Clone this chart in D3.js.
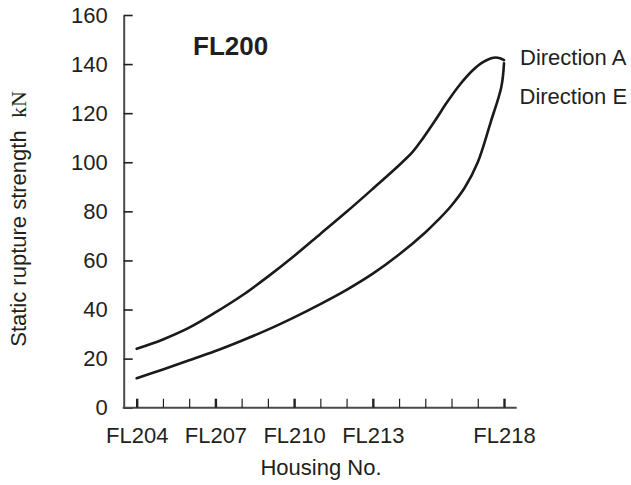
<!DOCTYPE html>
<html>
<head>
<meta charset="utf-8">
<script src="https://cdn.jsdelivr.net/npm/d3@7"></script>
<style>
  html, body { margin: 0; padding: 0; background: #fff; }
  svg { display: block; }
  text { font-family: "Liberation Sans", Arial, sans-serif; fill: #231f20; }
</style>
</head>
<body>
<svg id="chart" width="631" height="485"></svg>
<script>
// ---- data ----
const housingTicks = [204,205,206,207,208,209,210,211,212,213,214,215,216,217,218];
const housingLabels = [204,207,210,213,218];
const strengthTicks = [0,20,40,60,80,100,120,140,160];

// Direction A (upper curve): housing number (fractional positions along the curve) and strength kN
const housingA  = [204, 205, 206, 207, 208, 209, 210, 211, 212, 213, 214, 214.5, 214.9, 215.4, 215.8, 216.3, 216.8, 217.2, 217.6, 217.85, 218];
const strengthA = [24, 27.8, 32.6, 38.8, 45.6, 53.4, 61.8, 70.8, 79.8, 89.2, 98.8, 104, 109.6, 117.4, 124, 131.4, 137.4, 140.8, 142.6, 142.4, 141.6];

// Direction E (lower curve)
const housingE  = [204, 205, 206, 207, 208, 209, 210, 211, 212, 213, 214, 215, 215.5, 216, 216.5, 217, 217.5, 217.9, 218];
const strengthE = [12, 15.6, 19.3, 23.1, 27.3, 31.8, 36.8, 42.2, 48, 54.6, 62.4, 71.4, 76.6, 82.4, 89.6, 100, 116.6, 130.8, 140.3];

const seriesNames = ["Direction A", "Direction E"];
const chartTitle = "FL200";
const xTitle = "Housing No.";
const yTitleSans = "Static rupture strength\u00a0\u00a0";
const yTitleUnit = "kN";

// ---- layout ----
const svg = d3.select("#chart");
const FS = 22;
const x = d3.scaleLinear().domain([204, 218]).range([136.7, 504]);
const y = d3.scaleLinear().domain([0, 160]).range([407.7, 15]);
const axisColor = "#4a4a4a";

// y axis
const yAxis = svg.append("g").attr("transform", "translate(123.7,0)")
  .call(d3.axisLeft(y).tickValues(strengthTicks).tickSizeInner(-9).tickSizeOuter(0).tickPadding(16));
yAxis.select(".domain").attr("stroke", axisColor).attr("stroke-width", 2);
yAxis.selectAll(".tick line").attr("stroke", "#231f20").attr("stroke-width", 1.6);
yAxis.selectAll(".tick text").style("font-size", FS + "px").attr("fill", "#231f20");

// x axis line (extends beyond first/last ticks, from the y axis)
svg.append("line")
  .attr("x1", 122.7).attr("x2", x(218) + 12.7)
  .attr("y1", y(0)).attr("y2", y(0))
  .attr("stroke", axisColor).attr("stroke-width", 2);

const xAxis = svg.append("g").attr("transform", `translate(0,${y(0)})`)
  .call(d3.axisBottom(x).tickValues(housingTicks).tickSizeInner(-9).tickSizeOuter(0).tickPadding(20)
    .tickFormat(d => housingLabels.includes(d) ? "FL" + d : ""));
xAxis.select(".domain").remove();
xAxis.selectAll(".tick line")
  .attr("stroke", "#231f20")
  .attr("stroke-width", d => housingLabels.includes(d) ? 2.4 : 1.2);
xAxis.selectAll(".tick text").style("font-size", FS + "px").attr("fill", "#231f20");

// curves
const line = d3.line().x(d => x(d[0])).y(d => y(d[1])).curve(d3.curveCatmullRom.alpha(0.5));
const dataA = housingA.map((h, i) => [h, strengthA[i]]);
const dataE = housingE.map((h, i) => [h, strengthE[i]]);
[dataA, dataE].forEach(dat => {
  svg.append("path").datum(dat).attr("d", line)
    .attr("fill", "none").attr("stroke", "#1a1a1a").attr("stroke-width", 2.6)
    .attr("stroke-linecap", "round").attr("stroke-linejoin", "round");
});

// series labels
svg.append("text").attr("x", 520).attr("y", 65).style("font-size", FS + "px").text(seriesNames[0]);
svg.append("text").attr("x", 519.5).attr("y", 103.5).style("font-size", FS + "px").text(seriesNames[1]);

// chart title
svg.append("text").attr("x", 193).attr("y", 55)
  .style("font-size", "26px").style("font-weight", "bold").text(chartTitle);

// x title
svg.append("text").attr("x", 321).attr("y", 475).attr("text-anchor", "middle")
  .style("font-size", FS + "px").text(xTitle);

// y title
const yt = svg.append("text").attr("transform", "translate(26,219) rotate(-90)")
  .attr("text-anchor", "middle").style("font-size", FS + "px");
yt.append("tspan").text(yTitleSans);
yt.append("tspan").style("font-family", "'Liberation Serif', 'Times New Roman', serif").text(yTitleUnit);
</script>
</body>
</html>
